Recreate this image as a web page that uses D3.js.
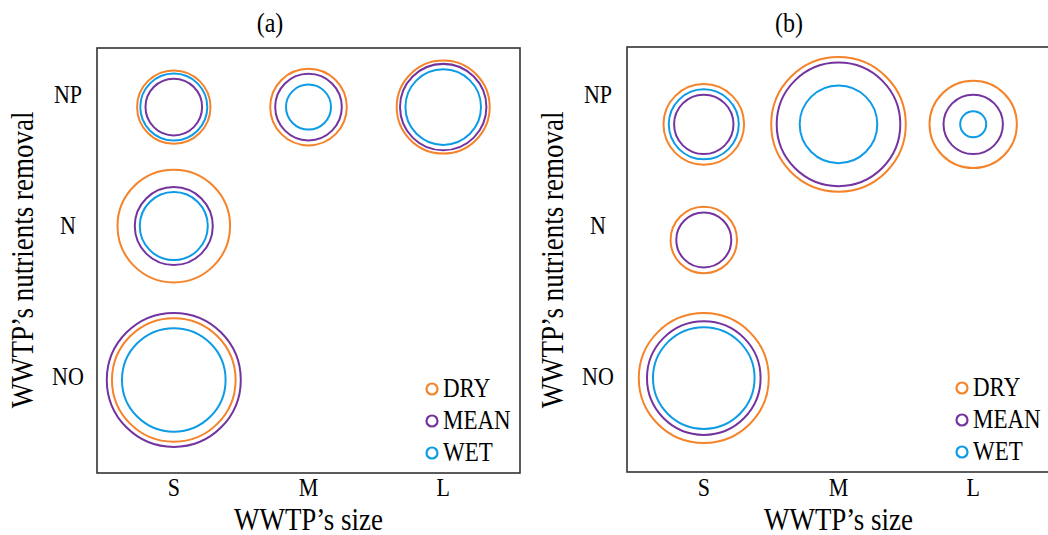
<!DOCTYPE html>
<html>
<head>
<meta charset="utf-8">
<script src="https://cdn.jsdelivr.net/npm/d3@7"></script>
<style>
  html, body { margin: 0; padding: 0; background: #fff; }
  svg { display: block; }
  text { font-family: "Liberation Serif", "Times New Roman", serif; fill: #000; }
</style>
</head>
<body>
<svg id="chart" width="1048" height="535"></svg>
<script>
// ---- data ----
const sizes = ["S", "M", "L"];
const removals = ["NP", "N", "NO"];
const seriesNames = ["DRY", "MEAN", "WET"];
const panelTitles = ["(a)", "(b)"];
const xTitle = "WWTP\u2019s size";
const yTitle = "WWTP\u2019s nutrients removal";

// cells (removal, size) where bubbles exist
const cellRemoval = ["NP", "NP", "NP", "N", "NO"];
const cellSize    = ["S",  "M",  "L",  "S", "S"];

// bubble radii values (panel a)
const aDry  = [36.7, 38.3, 46.5, 56.3, 61.8];
const aMean = [28.3, 33.3, 43.2, 39.0, 67.0];
const aWet  = [33.5, 22.5, 37.8, 34.0, 51.8];
// panel b
const bDry  = [40.3, 67.3, 43.7, 33.2, 65.0];
const bMean = [29.7, 61.8, 29.7, 27.5, 56.8];
const bWet  = [35.0, 38.8, 13.0, null, 50.8];

// ---- layout / style ----
const colors = { DRY: "#F5832A", MEAN: "#7434A0", WET: "#0E9BE6" };
const frameW = 423, frameH = 425;
const stretch = 1.15; // reference glyphs are taller than wide
const panels = [
  { left: 97,  top: 48, titleX: 270, rowFrac: [0.139, 0.419, 0.781], series: [aDry, aMean, aWet] },
  { left: 627, top: 47, titleX: 789, rowFrac: [0.182, 0.454, 0.779], series: [bDry, bMean, bWet] }
];
const tickBaseline = { NP: 103, N: 234, NO: 385 };

const svg = d3.select("#chart");
const rScale = d3.scaleLinear().domain([0, 70]).range([0, 70]);

function label(sel, x, y, str, size, anchor, rot) {
  return sel.append("text")
    .attr("transform", `translate(${x},${y})${rot ? " rotate(" + rot + ")" : ""} scale(1,${stretch})`)
    .attr("text-anchor", anchor || "middle")
    .attr("font-size", size)
    .text(str);
}

panels.forEach((p, pi) => {
  const g = svg.append("g").attr("transform", `translate(${p.left},${p.top})`);
  const x = d3.scalePoint().domain(sizes).range([0, frameW]).padding(0.57);
  const yC = d3.scaleOrdinal().domain(removals).range(p.rowFrac.map(f => f * frameH));

  // frame
  g.append("rect").attr("x", 0).attr("y", 0).attr("width", frameW).attr("height", frameH)
    .attr("fill", "none").attr("stroke", "#333").attr("stroke-width", 1.6);

  // bubbles
  seriesNames.forEach((s, si) => {
    const vals = p.series[si];
    const data = vals.map((v, i) => ({ v, r: cellRemoval[i], c: cellSize[i] })).filter(d => d.v != null);
    g.append("g").selectAll("circle").data(data).join("circle")
      .attr("cx", d => x(d.c))
      .attr("cy", d => yC(d.r))
      .attr("r", d => rScale(d.v))
      .attr("fill", "none")
      .attr("stroke", colors[s])
      .attr("stroke-width", 2);
  });

  // x tick labels
  sizes.forEach(d => label(g, x(d), 496 - p.top, d, 22));
  // y tick labels
  removals.forEach(d => label(g, -29, tickBaseline[d] - p.top, d, 22));

  // axis titles
  label(g, frameW / 2, 530 - p.top, xTitle, 27);
  g.append("text")
    .attr("transform", `translate(-64,${260 - p.top}) rotate(-90) scale(1,${stretch})`)
    .attr("text-anchor", "middle").attr("font-size", 27).text(yTitle);

  // panel title
  label(svg, p.titleX, 32, panelTitles[pi], 24);

  // legend
  const lg = g.append("g").attr("transform", `translate(${frameW - 88},${341})`);
  seriesNames.forEach((s, i) => {
    const row = lg.append("g").attr("transform", `translate(0,${i * 32})`);
    row.append("circle").attr("cx", 0).attr("cy", 0).attr("r", 5.5)
      .attr("fill", "none").attr("stroke", colors[s]).attr("stroke-width", 2.2);
    label(row, 11, 8, s, 23, "start");
  });
});
</script>
</body>
</html>
